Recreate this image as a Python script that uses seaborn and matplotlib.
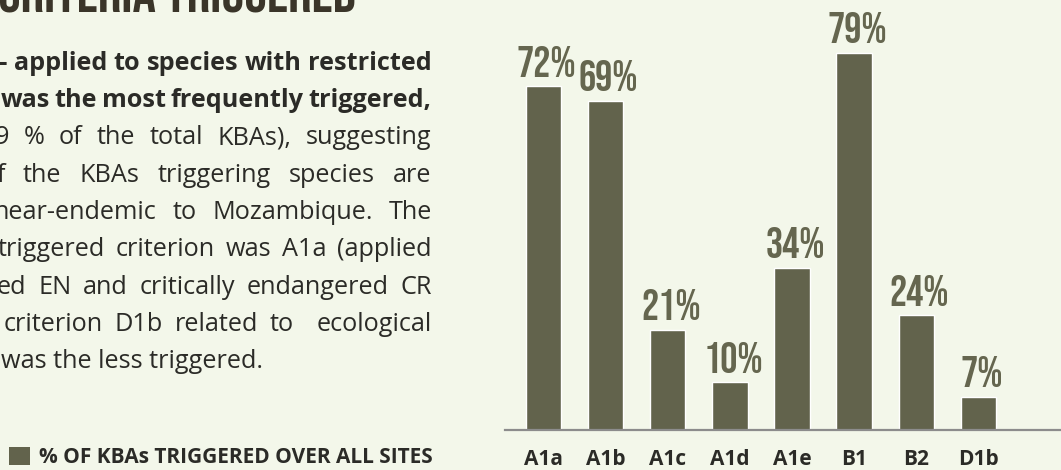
import matplotlib
matplotlib.use("Agg")
import matplotlib.pyplot as plt
import seaborn as sns
import pandas as pd
from matplotlib.patches import Patch

# ---------------- data ----------------
criteria = ["A1a", "A1b", "A1c", "A1d", "A1e", "B1", "B2", "D1b"]
pct_triggered = [72, 69, 21, 10, 34, 79, 24, 7]
value_labels = [f"{v}%" for v in pct_triggered]
legend_label = "% OF KBAs TRIGGERED OVER ALL SITES"
title_text = "CRITERIA TRIGGERED"
body_lines = [
    "– applied to species with restricted",
    "was the most frequently triggered,",
    "9 % of the total KBAs), suggesting",
    "f the KBAs triggering species are",
    "near-endemic to Mozambique. The",
    "triggered criterion was A1a (applied",
    "ed EN and critically endangered CR",
    "criterion D1b related to  ecological",
    "was the less triggered.",
]
body_bold = [True, True, False, False, False, False, False, False, False]

# ---------------- style ----------------
BG = "#F3F7EA"
BAR = "#62634C"
LABEL = "#65664F"
DARK = "#2B2B27"
TITLE = "#3A3529"
AXIS = "#8C8C8C"
BODY_FONT = ["Open Sans", "DejaVu Sans"]
COND_FONT = ["Bebas Neue", "Oswald", "Antonio", "Anton", "DejaVu Sans"]

sns.set_style("white")
plt.rcParams["font.family"] = BODY_FONT

W, H = 1061, 470
fig = plt.figure(figsize=(W / 100, H / 100), dpi=100, facecolor=BG)
renderer = fig.canvas.get_renderer()


def fx(px):
    return px / W


def fy(py):
    return 1 - py / H


# ---------------- bar chart ----------------
ax = fig.add_axes([fx(505), fy(430), fx(1061) - fx(505), 430 / H])
ax.set_facecolor(BG)
df = pd.DataFrame({"criterion": criteria, "pct": pct_triggered})
sns.barplot(data=df, x="criterion", y="pct", color=BAR, saturation=1,
            width=0.57, ax=ax)
ax.set_xlim(-0.62, 8.33)
ax.set_ylim(0, 90.1)
ax.set_xlabel("")
ax.set_ylabel("")
ax.set_yticks([])
for s in ["top", "left", "right"]:
    ax.spines[s].set_visible(False)
ax.spines["bottom"].set_color(AXIS)
ax.spines["bottom"].set_linewidth(1.6)
ax.tick_params(axis="x", length=0, pad=14, labelsize=15, labelcolor=DARK)
for t in ax.get_xticklabels():
    t.set_fontweight("bold")
    t.set_family(BODY_FONT)

anns = ax.bar_label(ax.containers[0], labels=value_labels, padding=7,
                    fontsize=31, family=COND_FONT, color=LABEL)
for a in anns:
    a.xyann = (2.2, 7)

# ---------------- title (clipped at top) ----------------
probe = fig.text(0, 0, title_text, fontsize=10, family=COND_FONT)
w10 = probe.get_window_extent(renderer).width
probe.remove()
title_size = 10 * 362 / w10
fig.text(fx(-2), fy(12.5), title_text, fontsize=title_size, family=COND_FONT,
         color=TITLE, ha="left", va="baseline")

# ---------------- justified body text ----------------
x_right = 431.7
left_anchor = [-5, 0.5, -5.5, -3.5, -6, -2, -3, 4, 1]
baseline0, leading = 70, 37.25
BODY_SIZE = 18.2

for i, (line, bold) in enumerate(zip(body_lines, body_bold)):
    yb = baseline0 + leading * i
    weight = "bold" if bold else "normal"
    if i == len(body_lines) - 1:
        fig.text(fx(left_anchor[i]), fy(yb), line, fontsize=BODY_SIZE,
                 fontweight=weight, color=DARK, family=BODY_FONT,
                 ha="left", va="baseline")
        continue
    words = line.split(" ")
    texts, widths = [], []
    for w in words:
        if w == "":
            texts.append(None)
            widths.append(0.0)
            continue
        t = fig.text(0, 0, w, fontsize=BODY_SIZE, fontweight=weight,
                     color=DARK, family=BODY_FONT, ha="left", va="baseline")
        widths.append(t.get_window_extent(renderer).width)
        texts.append(t)
    gap = (x_right - left_anchor[i] - sum(widths)) / (len(words) - 1)
    x = left_anchor[i]
    for t, wd in zip(texts, widths):
        if t is not None:
            t.set_position((fx(x), fy(yb)))
        x += wd + gap

# ---------------- legend ----------------
handle = Patch(facecolor=BAR, edgecolor="none", label=legend_label)
leg = fig.legend(handles=[handle], loc="lower left",
                 bbox_to_anchor=(fx(9), fy(468)), frameon=False,
                 borderpad=0, borderaxespad=0, handlelength=1.0,
                 handleheight=1.0, handletextpad=0.45,
                 prop={"family": BODY_FONT, "weight": "bold", "size": 15})
for t in leg.get_texts():
    t.set_color(DARK)

fig.savefig("out.png", dpi=100, facecolor=BG)
